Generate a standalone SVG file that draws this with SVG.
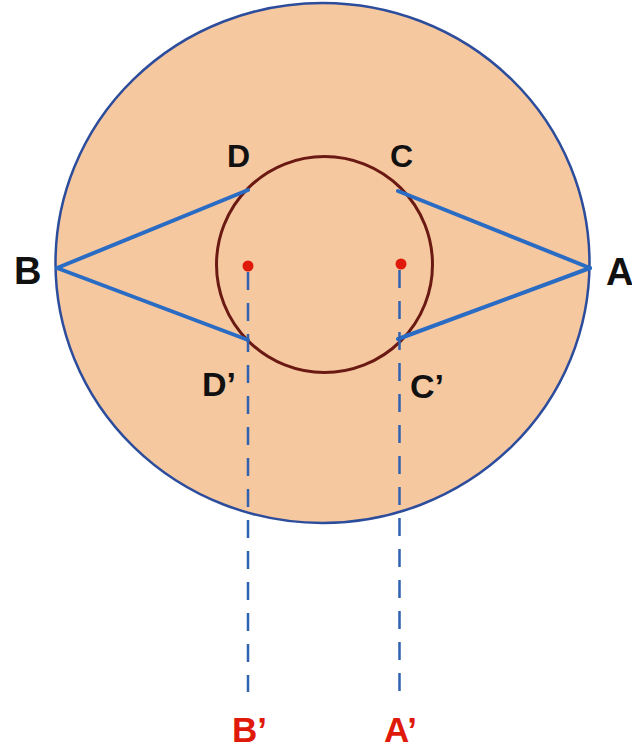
<svg xmlns="http://www.w3.org/2000/svg" width="632" height="751" viewBox="0 0 632 751">
  <style>
    .lbl { font-family: "Liberation Sans", Arial, sans-serif; font-weight: bold; fill: #111; }
    .red { fill: #e01a0a; }
    .solid { stroke: #2a6cc4; stroke-width: 4; fill: none; stroke-linecap: round; }
    .dash { stroke: #2f62b0; stroke-width: 2.5; fill: none; stroke-dasharray: 18 13; }
  </style>
  <rect width="632" height="751" fill="#ffffff"/>
  <g id="outer-circle">
    <ellipse cx="322.5" cy="263" rx="267" ry="260" fill="#f6c8a0" stroke="#2c4c9c" stroke-width="2.5"/>
  </g>
  <g id="inner-circle">
    <circle cx="324.5" cy="264.5" r="108" fill="none" stroke="#6a1a12" stroke-width="3"/>
  </g>
  <g id="connectors">
    <line class="solid" x1="57" y1="268" x2="248" y2="190"/>
    <line class="solid" x1="57" y1="268" x2="248" y2="340"/>
    <line class="solid" x1="590" y1="268" x2="398" y2="191"/>
    <line class="solid" x1="590" y1="268" x2="398" y2="339"/>
    <line class="dash" x1="248" y1="272" x2="248" y2="692"/>
    <line class="dash" x1="399.5" y1="270" x2="399.5" y2="693"/>
  </g>
  <g id="point-left">
    <circle cx="248" cy="266" r="5.5" fill="#e01a0a"/>
  </g>
  <g id="point-right">
    <circle cx="401" cy="264" r="5.5" fill="#e01a0a"/>
  </g>
  <g id="label-B"><text class="lbl" x="14" y="284" font-size="38">B</text></g>
  <g id="label-A"><text class="lbl" x="606" y="285" font-size="38">A</text></g>
  <g id="label-D"><text class="lbl" x="227" y="167" font-size="32">D</text></g>
  <g id="label-C"><text class="lbl" x="390" y="167" font-size="32">C</text></g>
  <g id="label-D2"><text class="lbl" x="202" y="396" font-size="34">D’</text></g>
  <g id="label-C2"><text class="lbl" x="410" y="398" font-size="34">C’</text></g>
  <g id="label-B2"><text class="lbl red" x="232" y="742" font-size="35">B’</text></g>
  <g id="label-A2"><text class="lbl red" x="384" y="742" font-size="35">A’</text></g>
</svg>
